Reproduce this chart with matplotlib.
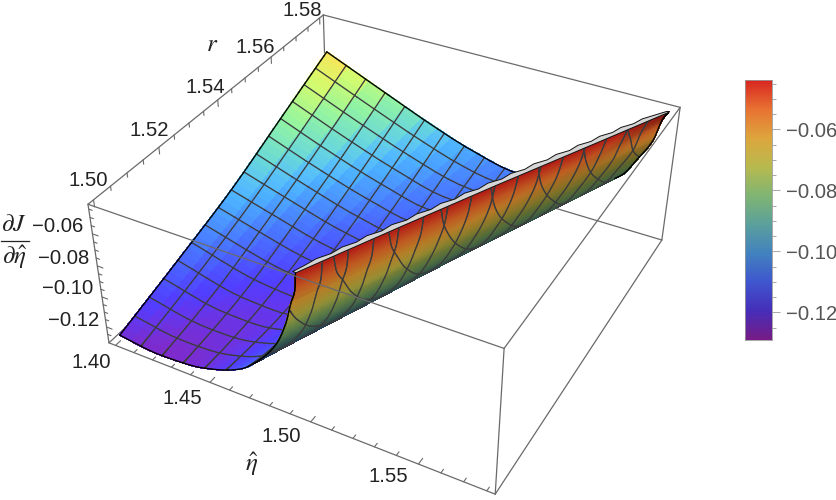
import numpy as np
import matplotlib
matplotlib.use("Agg")
import matplotlib.pyplot as plt
from matplotlib.colors import LinearSegmentedColormap
from matplotlib.lines import Line2D
from mpl_toolkits.mplot3d.art3d import Poly3DCollection, Line3DCollection

W, H = 836, 500
plt.rcParams["font.family"] = ["Liberation Sans", "DejaVu Sans"]
plt.rcParams["mathtext.fontset"] = "stix"

# plot box
eta_box = [1.3964, 1.5836]
r_box = [1.4984, 1.5816]
z_box = [-0.1308, -0.0421]
z_range = [-0.1291, -0.0438]

# where the box corners sit in the picture (eta idx, r idx, z idx, px, py)
corners = [(0, 0, 1, 88, 204), (0, 0, 0, 109, 343), (1, 0, 0, 495, 494), (1, 0, 1, 504.3, 348.7),
           (1, 1, 1, 680, 107.3), (1, 1, 0, 662, 240), (0, 1, 1, 323.3, 15)]

# surface: one profile per r, t is the distance in eta behind the ridge
r_rows = [1.50, 1.52, 1.54, 1.56, 1.58]
ridge_eta = [1.4938, 1.5147, 1.5360, 1.5579, 1.5797]
t_150 = [0, .0008, .0028, .0058, .0108, .0198, .0298, .0428, .0568, .0738, .0938]
z_150 = [-.0438, -.055, -.063, -.077, -.092, -.107, -.118, -.125, -.129, -.130, -.127]
t_152 = [0, .0012, .0035, .0065, .012, .021, .032, .047, .062, .08, .1147]
z_152 = [-.0438, -.055, -.065, -.077, -.092, -.105, -.115, -.122, -.125, -.124, -.114]
t_154 = [0, .0015, .004, .0075, .014, .024, .036, .05, .066, .085, .11, .136]
z_154 = [-.0438, -.055, -.066, -.077, -.092, -.104, -.112, -.118, -.120, -.117, -.109, -.100]
t_156 = [0, .002, .005, .009, .016, .027, .04, .056, .075, .1, .13, .1579]
z_156 = [-.0438, -.055, -.066, -.077, -.092, -.103, -.110, -.114, -.114, -.107, -.095, -.082]
t_158 = [0, .0025, .0055, .0115, .0185, .03, .045, .0715, .0975, .1205, .1425, .1797]
z_158 = [-.0438, -.050, -.064, -.078, -.092, -.102, -.109, -.111, -.104, -.094, -.083, -.064]
profiles = [(t_150, z_150), (t_152, z_152), (t_154, z_154), (t_156, z_156), (t_158, z_158)]

# grey clipped cap along the ridge, width in eta, every 0.0025 in r
cap_r = np.arange(33) * 0.0025 + 1.50
cap_width = [.0015, .0021, .0030, .0022, .0032, .0024, .0035, .0025, .0036, .0025, .0036, .0026, .0037, .0026, .0037,
             .0026, .0037, .0026, .0037, .0026, .0037, .0026, .0037, .0026, .0037, .0026, .0036, .0025, .0035, .0024,
             .0032, .0022, .0012]

# Rainbow colour stops
rainbow = [(0.471, 0.109, 0.527), (0.275, 0.182, 0.727), (0.248, 0.340, 0.810), (0.260, 0.510, 0.750),
           (0.360, 0.630, 0.610), (0.500, 0.710, 0.450), (0.720, 0.730, 0.310), (0.870, 0.650, 0.240),
           (0.910, 0.450, 0.200), (0.850, 0.150, 0.130)]
cmap = LinearSegmentedColormap.from_list("rainbow", rainbow)

eta_ticks = np.arange(19) * 0.01 + 1.40
r_ticks = np.arange(17) * 0.005 + 1.50
z_ticks = np.arange(-0.125, -0.044, 0.005)
bar_major = [-0.12, -0.10, -0.08, -0.06]
bar_labels = ["\u22120.12", "\u22120.10", "\u22120.08", "\u22120.06"]


def fit_camera():
    # solve the box corners for a projective camera
    sc = np.eye(4)
    for i, b in enumerate((eta_box, r_box, z_box)):
        sc[i, i] = 1 / (b[1] - b[0])
        sc[i, 3] = -b[0] / (b[1] - b[0])
    rows = []
    for i, j, k, u, v in corners:
        X = [i, j, k, 1]
        rows.append(X + [0] * 4 + [-u / 500 * c for c in X])
        rows.append([0] * 4 + X + [-v / 500 * c for c in X])
    P = np.linalg.svd(np.array(rows))[2][-1].reshape(3, 4)
    P = np.diag([500, 500, 1]) @ P @ sc
    mid = np.array([np.mean(eta_box), np.mean(r_box), np.mean(z_box), 1])
    return P / (P[2] @ mid)


P = fit_camera()


def project(e, r, z):
    X = np.stack([e, r, z, np.ones_like(e)], axis=-1)
    h = X @ P.T
    return h[..., 0] / h[..., 2], h[..., 1] / h[..., 2]


def smooth_interp(x, xs, ys):
    # monotone cubic through the read values
    xs, ys = np.asarray(xs, float), np.asarray(ys, float)
    x = np.clip(x, xs[0], xs[-1])
    h = np.diff(xs)
    d = np.diff(ys) / h
    m = np.zeros_like(ys)
    m[0], m[-1] = d[0], d[-1]
    same = d[:-1] * d[1:] > 0
    m[1:-1][same] = 2 * d[:-1][same] * d[1:][same] / (d[:-1][same] + d[1:][same])
    i = np.clip(np.searchsorted(xs, x, side="right") - 1, 0, len(h) - 1)
    s = (x - xs[i]) / h[i]
    return (ys[i] * (1 + 2 * s) * (1 - s) ** 2 + m[i] * h[i] * s * (1 - s) ** 2
            + ys[i + 1] * s ** 2 * (3 - 2 * s) + m[i + 1] * h[i] * s ** 2 * (s - 1))


def surf_z(e, r):
    e, r = np.asarray(e, float), np.asarray(r, float)
    rid = np.interp(r, r_rows, ridge_eta)
    q = (rid - e) / (rid - 1.40)
    rows = np.stack([smooth_interp(q * (re - 1.40), t, z) for re, (t, z) in zip(ridge_eta, profiles)])
    slopes = np.gradient(rows, 0.02, axis=0)
    pos = np.clip((r - r_rows[0]) / 0.02, 0, 3.999999)
    i = pos.astype(int)
    s = pos - i
    idx = np.indices(r.shape)
    z0, z1 = rows[(i, *idx)], rows[(i + 1, *idx)]
    m0, m1 = slopes[(i, *idx)] * 0.02, slopes[(i + 1, *idx)] * 0.02
    return (z0 * (1 + 2 * s) * (1 - s) ** 2 + m0 * s * (1 - s) ** 2
            + z1 * s ** 2 * (3 - 2 * s) + m1 * s ** 2 * (s - 1))


def orient(e, r):
    # sign of the surface -> picture map; tells the inner side from the outer wall
    d = 1e-4
    x0, y0 = project(e, r, surf_z(e, r))
    x1, y1 = project(e - d, r, surf_z(e - d, r))
    x2, y2 = project(e, r + d, surf_z(e, r + d))
    return (x1 - x0) * (y2 - y0) - (y1 - y0) * (x2 - x0)


# quads
q = np.concatenate([[0], np.geomspace(0.0015, 1, 90)])
rr = np.linspace(1.50, 1.58, 49)
Q, R = np.meshgrid(q, rr)
RID = np.interp(R, r_rows, ridge_eta)
E = RID - Q * (RID - 1.40)
Z = surf_z(E, R)

Qm = (Q[:-1, :-1] + Q[1:, :-1] + Q[:-1, 1:] + Q[1:, 1:]) / 4
Rm = (R[:-1, :-1] + R[1:, :-1] + R[:-1, 1:] + R[1:, 1:]) / 4
Em = (E[:-1, :-1] + E[1:, :-1] + E[:-1, 1:] + E[1:, 1:]) / 4
Om = orient(Em, Rm) * orient(np.array(1.41), np.array(1.55))

# fold line: going from the eta = 1.40 edge towards the ridge, where the side seen first flips
q_fold = []
for row_q, row_o in zip(Qm, Om):
    j = len(row_q) - 1
    while j > 0 and row_o[j - 1] > 0:
        j -= 1
    q_fold.append(row_q[j])
q_fold = np.array(q_fold)
r_fold = Rm[:, 0]


def is_inner(e, r):
    rid = np.interp(r, r_rows, ridge_eta)
    return (rid - e) / (rid - 1.40) >= np.interp(r, r_fold, q_fold)


norm = lambda z: (z - z_range[0]) / (z_range[1] - z_range[0])
grazing = np.median(np.abs(Om[~is_inner(Em, Rm)]))
inner_v, inner_c, outer_v, outer_c = [], [], [], []
for i in range(len(rr) - 1):
    for j in range(len(q) - 1):
        ii = [i, i, i + 1, i + 1]
        jj = [j, j + 1, j + 1, j]
        v = np.column_stack([E[ii, jj], R[ii, jj], Z[ii, jj]])
        zm = v[:, 2].mean()
        if Qm[i, j] >= np.interp(Rm[i, j], r_fold, q_fold):
            inner_v.append(v)
            c = np.array(cmap(norm(zm) + 0.03)[:3])
            inner_c.append(np.clip(c * [1.15, 1.35, 1.40], 0, 1))
        else:
            outer_v.append(v)
            c = np.array(cmap(norm(zm))[:3])
            shade = 0.62 + 0.38 * min(1, abs(Om[i, j]) / grazing)
            outer_c.append(np.clip(c * [0.82, 0.76, 0.64] * shade, 0, 1))

# mesh lines and outlines, split by the side they lie on
mesh_in, mesh_out, bound_in, bound_out = [], [], [], []


def add_line(e, r, seen, hidden):
    pts = np.column_stack([e, r, surf_z(e, r)])
    inner = is_inner((e[:-1] + e[1:]) / 2, (r[:-1] + r[1:]) / 2)
    for a, b, s in zip(pts[:-1], pts[1:], inner):
        (seen if s else hidden).append([a, b])


for rl in np.linspace(1.50, 1.58, 17)[1:-1]:
    rid = np.interp(rl, r_rows, ridge_eta)
    add_line(rid - q * (rid - 1.40), np.full(q.shape, rl), mesh_in, mesh_out)
for el in 1.40 + 0.01125 * np.arange(1, 16):
    r0 = max(1.50, np.interp(el, ridge_eta, r_rows))
    g = np.concatenate([[0], np.geomspace(0.002, 1, 70)])
    add_line(np.full(g.shape, el), r0 + g * (1.58 - r0), mesh_in, mesh_out)

g = np.linspace(1.50, 1.58, 60)
add_line(np.full(g.shape, 1.40), g, bound_in, bound_out)
add_line(ridge_eta[0] - q * (ridge_eta[0] - 1.40), np.full(q.shape, 1.50), bound_in, bound_out)
add_line(ridge_eta[-1] - q * (ridge_eta[-1] - 1.40), np.full(q.shape, 1.58), bound_in, bound_out)

# figure
fig = plt.figure(figsize=(W / 100, H / 100), dpi=100)
ax = fig.add_axes([0, 0, 1, 1], projection="3d", computed_zorder=False)
ax.set_axis_off()
ax.patch.set_visible(False)
ax.apply_aspect = lambda position=None: None


def get_proj():
    to_view = ax.transData.get_affine().inverted().get_matrix() @ np.array([[1, 0, 0], [0, -1, H], [0, 0, 1.0]])
    C = to_view @ P
    return np.vstack([C[0], C[1], C[2] - [0, 0, 0, 0.5], C[2]])


ax.get_proj = get_proj


def corner(i, j, k):
    return (eta_box[i], r_box[j], z_box[k])


edge_col = "#6a6a6a"
back = [(corner(0, 1, 1), corner(0, 1, 0)), (corner(0, 1, 0), corner(0, 0, 0)), (corner(0, 1, 0), corner(1, 1, 0))]
front = [(corner(0, 0, 1), corner(0, 0, 0)), (corner(0, 0, 0), corner(1, 0, 0)), (corner(1, 0, 0), corner(1, 0, 1)),
         (corner(1, 0, 1), corner(0, 0, 1)), (corner(1, 0, 1), corner(1, 1, 1)), (corner(1, 1, 1), corner(1, 1, 0)),
         (corner(1, 1, 0), corner(1, 0, 0)), (corner(0, 0, 1), corner(0, 1, 1)), (corner(0, 1, 1), corner(1, 1, 1))]

ticks = []
for t in eta_ticks:
    ln = 0.0016 if round(t * 100) % 5 == 0 else 0.001
    ticks.append([(t, r_box[0], z_box[0]), (t, r_box[0] + ln, z_box[0])])
for t in r_ticks:
    ln = 0.0042 if round(t * 1000) % 20 == 0 else 0.0026
    ticks.append([(eta_box[0], t, z_box[1]), (eta_box[0], t, z_box[1] - ln)])
for t in z_ticks:
    ln = 0.0030 if round(t * 1000) % 20 == 0 else 0.0018
    ticks.append([(eta_box[0], r_box[0], t), (eta_box[0] + ln, r_box[0], t)])


def add_lines(segs, color, lw, zorder):
    ax.add_collection3d(Line3DCollection(segs, colors=color, linewidths=lw, zorder=zorder, capstyle="round"))


add_lines(back, edge_col, 0.9, 1)
ax.add_collection3d(Poly3DCollection(inner_v, facecolors=inner_c, edgecolors=inner_c, linewidths=0.6,
                                     antialiased=False, zorder=2))
add_lines(mesh_in, "#3c3c3c", 0.95, 3)
add_lines(bound_in, "#000000", 1.0, 3.5)
ax.add_collection3d(Poly3DCollection(outer_v, facecolors=outer_c, edgecolors=outer_c, linewidths=0.6,
                                     antialiased=False, zorder=4))
add_lines(mesh_out, "#3c3c3c", 0.95, 5)
add_lines(bound_out, "#000000", 1.0, 6)

cap_e = np.interp(cap_r, r_rows, ridge_eta)
cap = [np.column_stack([np.r_[cap_e, (cap_e - cap_width)[::-1]], np.r_[cap_r, cap_r[::-1]],
                        np.full(2 * len(cap_r), z_range[1])])]
ax.add_collection3d(Poly3DCollection(cap, facecolors="#d6d6d6", edgecolors="#111111", linewidths=0.7, zorder=7))
add_lines(front, edge_col, 0.9, 8)
add_lines(ticks, edge_col, 0.8, 8)


def label(x, y, s, size=14.6, color="#222222", **kw):
    fig.text(x / W, 1 - y / H, s, fontsize=size, color=color, ha="center", va="center", **kw)


for s, x, y in [("\u22120.06", 58, 226.5), ("\u22120.08", 64, 259), ("\u22120.10", 68, 289), ("\u22120.12", 74, 320),
                ("1.40", 91, 362), ("1.45", 182, 398), ("1.50", 281, 436), ("1.55", 388, 477),
                ("1.50", 88, 180), ("1.52", 149, 131), ("1.54", 205, 88), ("1.56", 255, 47.5), ("1.58", 302, 10.5)]:
    label(x, y, s)
label(212, 44, r"$r$", size=18)
label(252, 464, r"$\hat{\eta}$", size=18)
label(14.5, 224, r"$\partial J$", size=18)
label(14.5, 257, r"$\partial\hat{\eta}$", size=18)
fig.add_artist(Line2D([0.5 / W, 29 / W], [1 - 241 / H, 1 - 241 / H], color="#222222", lw=0.9))

# colour bar
cax = fig.add_axes([745 / W, 1 - 340 / H, 26.7 / W, 260 / H])
cax.imshow(np.linspace(1, 0, 256)[:, None], cmap=cmap, aspect="auto", extent=[0, 1, z_range[0], z_range[1]])
cax.set_xticks([])
cax.yaxis.tick_right()
cax.set_yticks(bar_major, bar_labels, fontsize=14.6, color="#555555")
cax.set_yticks(z_ticks, minor=True)
cax.tick_params(axis="y", which="major", length=5.8, width=0.6, color="#999999", pad=4.5)
cax.tick_params(axis="y", which="minor", length=3, width=0.6, color="#999999")
for sp in cax.spines.values():
    sp.set_color("#999999")
    sp.set_linewidth(0.6)

fig.savefig("out.png", dpi=100)
